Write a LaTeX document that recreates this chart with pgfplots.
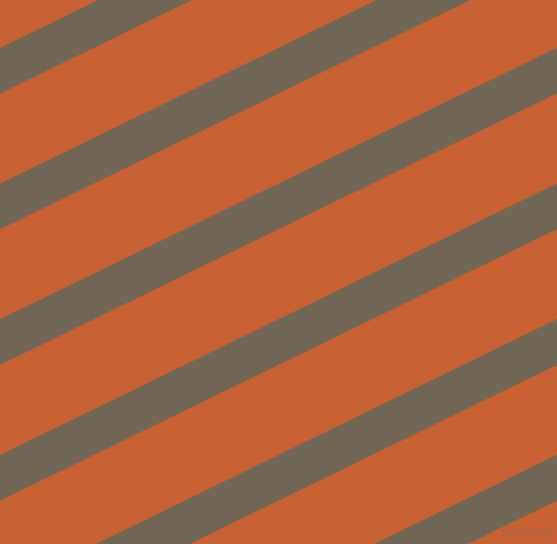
\documentclass[border=0pt]{standalone}
\usepackage{pgfplots}
\pgfplotsset{compat=1.18}
\usepackage{fontspec}
\setmainfont{Liberation Sans}
\definecolor{bgorange}{RGB}{200,98,52}
\definecolor{stripegray}{RGB}{114,102,86}
\definecolor{marktext}{RGB}{168,100,72}
\begin{document}
\begin{tikzpicture}
  \begin{axis}[
      width=278.5pt,
      height=271.5pt,
      scale only axis,
      xmin=0, xmax=557,
      ymin=0, ymax=543,
      y dir=reverse,
      hide axis,
      clip=true
    ]
    % background
    \addplot[fill=bgorange, draw=none] coordinates {
        (-5,-5) (562,-5) (562,548) (-5,548) } -- cycle;
    % stripes: upper edge y = b - 0.4877 x, thickness 45.5
    \addplot[fill=stripegray, draw=none] coordinates {
        (0,48) (557,-223.6) (557,-178.1) (0,93.5) } -- cycle;
    \addplot[fill=stripegray, draw=none] coordinates {
        (0,183.7) (557,-87.9) (557,-42.4) (0,229.2) } -- cycle;
    \addplot[fill=stripegray, draw=none] coordinates {
        (0,319.4) (557,47.8) (557,93.3) (0,364.9) } -- cycle;
    \addplot[fill=stripegray, draw=none] coordinates {
        (0,455.1) (557,183.5) (557,229) (0,500.6) } -- cycle;
    \addplot[fill=stripegray, draw=none] coordinates {
        (0,590.8) (557,319.2) (557,364.7) (0,636.3) } -- cycle;
    \addplot[fill=stripegray, draw=none] coordinates {
        (0,726.5) (557,454.9) (557,500.4) (0,772) } -- cycle;
    \node[text=marktext, font=\fontsize{6}{7}\selectfont, anchor=east, inner sep=0pt]
      at (axis cs:554,533) {pixlis.com};
  \end{axis}
\end{tikzpicture}
\end{document}
